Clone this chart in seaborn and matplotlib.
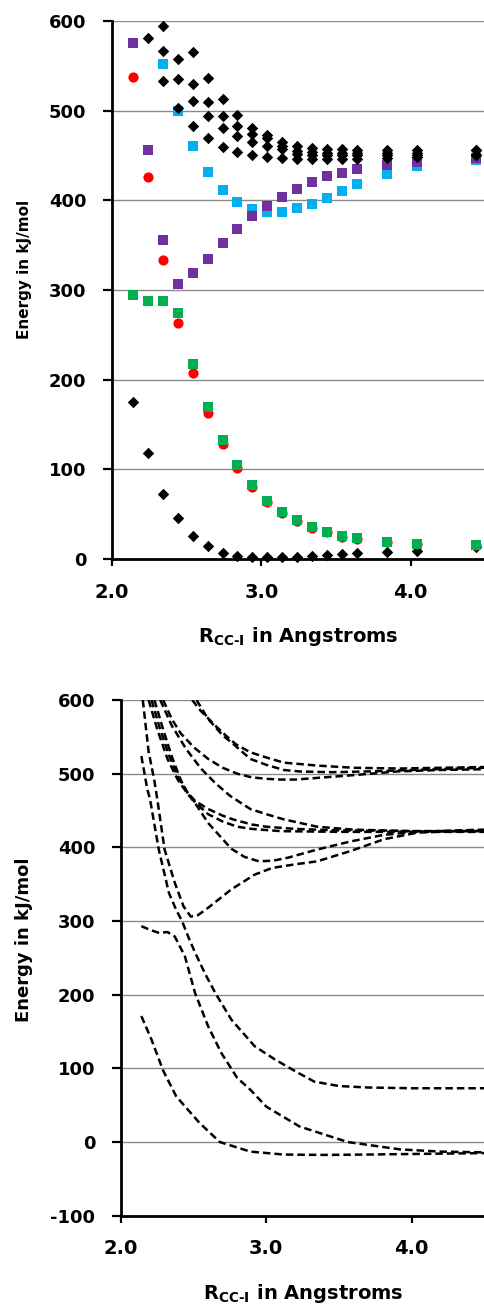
import numpy as np
import matplotlib
matplotlib.use("Agg")
import matplotlib.pyplot as plt
import seaborn as sns

# ---------------- data: computed points (upper panel) ----------------
r_pts = [2.14, 2.24, 2.34, 2.44, 2.54, 2.64, 2.74, 2.84, 2.94, 3.04,
         3.14, 3.24, 3.34, 3.44, 3.54, 3.64, 3.84, 4.04, 4.44]
nan = np.nan
ground = [175, 118, 73, 46, 26, 14.5, 7, 3.3, 1.8, 1.8,
          1.8, 2.6, 3.3, 4.8, 6, 6.3, 7.8, 9.3, 13]
state_red = [537, 426, 334, 263, 207, 163, 128, 101, 80, 64,
             51, 42, 35, 30, 25, 22, 19, 17, 16]
state_green = [294, 288, 288, 274, 217, 170, 133, 105, 82, 65,
               52, 43, 36, 30.5, 26, 23.4, 19.3, 16.7, 16]
state_blue = [nan, nan, 552, 500, 461, 432, 412, 398, 390, 387,
              387, 391, 396, 403, 410, 418, 429, 438, 445]
state_purple = [576, 456, 356, 307, 319, 335, 352, 368, 383, 394,
                404, 413, 420, 427, 431, 435, 439, 443, 447]
upper_1 = [nan, nan, nan, nan, 565, 536, 513, 495, 481, 473,
           465, 461, 458, 457, 457, 456, 456, 456, 456]
upper_2 = [nan, nan, 594, 558, 530, 510, 494, 483, 474, 470,
           461, 455, 454, 453, 453, 453, 453, 453, 456]
upper_3 = [nan, 581, 567, 535, 511, 494, 481, 472, 465, 461,
           457, 452, 451, 451, 451, 451, 451, 451, 451]
upper_4 = [nan, nan, 533, 503, 483, 469, 460, 454, 451, 448,
           447, 446, 446, 446, 446, 446, 447, 448, 451]

# ---------------- data: potential curves (lower panel) ----------------
t1_r = [2.49, 2.55, 2.65, 2.72, 2.79, 2.89, 3.0, 3.12, 3.35, 3.6, 3.92, 4.2, 4.5]
t1_e = [600, 585, 565, 552, 540, 529, 522, 515, 511, 508, 507, 508, 509]
t2_r = [2.52, 2.6, 2.7, 2.78, 2.89, 3.0, 3.12, 3.23, 3.45, 3.7, 4.0, 4.5]
t2_e = [600, 574, 552, 539, 520, 512, 505, 503, 502, 503, 505, 508]
t3_r = [2.29, 2.35, 2.41, 2.5, 2.6, 2.7, 2.8, 2.9, 3.0, 3.1, 3.2, 3.4, 3.6, 3.9, 4.2, 4.5]
t3_e = [600, 574, 555, 536, 520, 508, 500, 495, 493, 492, 492, 495, 498, 503, 505, 506]
u1_r = [2.27, 2.35, 2.45, 2.55, 2.65, 2.75, 2.89, 3.0, 3.12, 3.35, 3.6, 4.0, 4.5]
u1_e = [600, 565, 533, 507, 487, 470, 452, 445, 438, 428, 424, 422, 422]
u2_r = [2.21, 2.27, 2.33, 2.40, 2.46, 2.51, 2.6, 2.7, 2.77, 2.9, 3.0, 3.2, 3.5, 4.0, 4.5]
u2_e = [600, 560, 525, 492, 474, 463, 452, 443, 438, 431, 428, 425, 423, 422, 422]
u3_r = [2.23, 2.29, 2.35, 2.41, 2.46, 2.51, 2.6, 2.7, 2.8, 2.9, 3.1, 3.5, 4.0, 4.5]
u3_e = [600, 560, 523, 492, 473, 461, 445, 435, 428, 425, 422, 421, 421, 421]
b_r = [2.19, 2.25, 2.32, 2.39, 2.45, 2.51, 2.6, 2.7, 2.76, 2.85, 2.95, 3.05,
       3.15, 3.35, 3.58, 3.81, 4.04, 4.3, 4.5]
b_e = [600, 560, 520, 492, 475, 460, 433, 411, 398, 387, 381, 382,
       386, 397, 408, 417, 421, 423, 424]
p_r = [2.15, 2.19, 2.23, 2.25, 2.30, 2.37, 2.43, 2.48, 2.53, 2.6, 2.76, 2.92,
       3.04, 3.2, 3.35, 3.58, 3.81, 4.04, 4.3, 4.5]
p_e = [600, 530, 490, 465, 397, 352, 320, 306, 308, 318, 343, 363,
       372, 377, 381, 395, 411, 420, 422, 423]
l3_r = [2.14, 2.18, 2.2, 2.26, 2.33, 2.38, 2.42, 2.46, 2.51, 2.58, 2.65, 2.76,
        2.92, 3.06, 3.2, 3.33, 3.5, 3.7, 4.0, 4.5]
l3_e = [524, 480, 465, 397, 338, 315, 300, 280, 257, 228, 202, 166,
        130, 112, 96, 82, 76, 74, 73, 73]
l2_r = [2.14, 2.2, 2.26, 2.32, 2.37, 2.44, 2.51, 2.6, 2.69, 2.8, 2.89, 3.0,
        3.23, 3.56, 3.92, 4.2, 4.5]
l2_e = [293, 288, 284, 285, 279, 252, 202, 157, 121, 87, 71, 48,
        21, 0, -10, -13, -14]
l1_r = [2.14, 2.21, 2.29, 2.38, 2.54, 2.68, 2.89, 3.12, 3.4, 3.69, 4.1, 4.5]
l1_e = [171, 139, 97, 62, 26, 0, -13, -17, -17.5, -17, -16, -15]

curves = [(t1_r, t1_e), (t2_r, t2_e), (t3_r, t3_e), (u1_r, u1_e), (u2_r, u2_e),
          (u3_r, u3_e), (b_r, b_e), (p_r, p_e), (l3_r, l3_e), (l2_r, l2_e),
          (l1_r, l1_e)]

x_ticks = [2.0, 3.0, 4.0]
x_tick_labels = ["2.0", "3.0", "4.0"]
x_label = "R$_{\\mathrm{CC‐I}}$ in Angstroms"
y_label = "Energy in kJ/mol"

# ---------------- styling ----------------
sns.set_style("white")
plt.rcParams["font.family"] = ["DejaVu Sans"]
plt.rcParams["font.weight"] = "bold"
plt.rcParams["mathtext.fontset"] = "dejavusans"
plt.rcParams["axes.unicode_minus"] = False
for key in ("text.color", "axes.labelcolor", "xtick.color", "ytick.color",
            "xtick.labelcolor", "ytick.labelcolor"):
    plt.rcParams[key] = "black"

W, H = 484, 1306
fig = plt.figure(figsize=(W / 100, H / 100), dpi=100)


def axes_px(left, top, right, bottom):
    return fig.add_axes([left / W, 1 - bottom / H, (right - left) / W, (bottom - top) / H])


def style_axes(ax, ylo, yhi, xhi):
    ax.set_xlim(2.0, xhi)
    ax.set_ylim(ylo, yhi)
    ax.set_yticks(range(ylo, yhi + 1, 100))
    ax.set_xticks(x_ticks)
    ax.set_xticklabels(x_tick_labels)
    for s in ["top", "right"]:
        ax.spines[s].set_visible(False)
    for s in ["left", "bottom"]:
        ax.spines[s].set_linewidth(2.0)
        ax.spines[s].set_color("black")
    ax.yaxis.grid(True, color="#8a8a8a", lw=1.0)
    ax.xaxis.grid(False)
    ax.set_axisbelow(True)
    ax.tick_params(axis="y", direction="out", length=6.5, width=1.6, pad=12,
                   labelsize=13, left=True, color="black", labelcolor="black")
    ax.tick_params(axis="x", direction="out", length=5, width=1.6, pad=12,
                   labelsize=14, bottom=True, color="black", labelcolor="black")
    ax.set_xlabel("")
    ax.set_ylabel("")


ax1 = axes_px(112, 21, 484, 559)
ax2 = axes_px(121, 700, 484, 1215.7)

# upper panel: computed state energies
sq = 54
dm = 34
sns.scatterplot(x=r_pts, y=ground, ax=ax1, marker="D", color="black", s=dm,
                linewidth=0, clip_on=False, zorder=3)
sns.scatterplot(x=r_pts, y=state_red, ax=ax1, marker="o", color="#ff0000", s=sq,
                linewidth=0, clip_on=False, zorder=3)
sns.scatterplot(x=r_pts, y=state_green, ax=ax1, marker="s", color="#00b050", s=sq,
                linewidth=0, clip_on=False, zorder=3)
sns.scatterplot(x=r_pts, y=state_blue, ax=ax1, marker="s", color="#00b0f0", s=sq,
                linewidth=0, clip_on=False, zorder=3)
sns.scatterplot(x=r_pts, y=state_purple, ax=ax1, marker="s", color="#7030a0", s=sq,
                linewidth=0, clip_on=False, zorder=3)
for series in (upper_1, upper_2, upper_3, upper_4):
    sns.scatterplot(x=r_pts, y=series, ax=ax1, marker="D", color="black", s=dm,
                    linewidth=0, clip_on=False, zorder=3)
style_axes(ax1, 0, 600, 2.0 + 372 / 149.35)

# lower panel: dashed potential curves
for r, e in curves:
    sns.lineplot(x=r, y=e, ax=ax2, color="black", lw=1.8, estimator=None,
                 sort=False, linestyle="--")
for line in ax2.lines:
    line.set_dashes([3.0, 1.6])
style_axes(ax2, -100, 600, 2.0 + 363 / 145.3)

# axis titles
fig.text(298 / W, 1 - 642 / H, x_label, ha="center", va="baseline", fontsize=14)
fig.text(303 / W, 1 - 1299 / H, x_label, ha="center", va="baseline", fontsize=14)
fig.text(25 / W, 1 - 269 / H, y_label, rotation=90, ha="center", va="center", fontsize=11)
fig.text(24 / W, 1 - 940 / H, y_label, rotation=90, ha="center", va="center", fontsize=13)

fig.savefig("out.png", dpi=100)
